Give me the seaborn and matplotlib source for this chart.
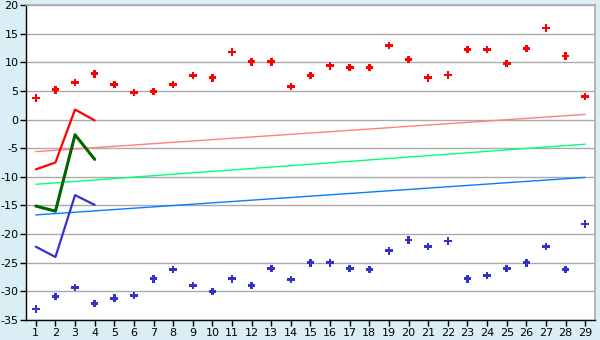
import matplotlib
matplotlib.use("Agg")
import matplotlib.pyplot as plt
import seaborn as sns
import pandas as pd

x_days = list(range(1, 30))
red_points = [3.8, 5.2, 6.5, 8.0, 6.1, 4.7, 4.9, 6.1, 7.7, 7.3,
              11.8, 10.1, 10.1, 5.8, 7.7, 9.4, 9.1, 9.1, 12.9, 10.5,
              7.3, 7.8, 12.2, 12.2, 9.8, 12.4, 16.0, 11.1, 4.0]
blue_points = [-33.1, -30.9, -29.3, -32.1, -31.2, -30.7, -27.8, -26.2, -29.0, -30.0,
               -27.8, -29.0, -26.0, -27.9, -25.0, -25.0, -26.0, -26.2, -22.9, -21.0,
               -22.2, -21.2, -27.8, -27.2, -26.0, -25.0, -22.2, -26.2, -18.2]

x_short = [1, 2, 3, 4]
red_line = [-8.7, -7.5, 1.75, -0.15]
green_line = [-15.1, -16.0, -2.65, -6.95]
blue_line = [-22.2, -24.0, -13.2, -14.9]

x_trend = [1, 29]
red_trend = [-5.6, 0.9]
green_trend = [-11.3, -4.3]
blue_trend = [-16.65, -10.1]

y_ticks = [20, 15, 10, 5, 0, -5, -10, -15, -20, -25, -30, -35]

sns.set_style("white")
plt.rcParams['font.family'] = ['DejaVu Sans']
plt.rcParams['axes.unicode_minus'] = False

bg = "#D9EEF5"
fig = plt.figure(figsize=(6, 3.4), dpi=100, facecolor=bg)
ax = fig.add_axes([26/600, 20/340, (595-26)/600, (320-5)/340])
ax.set_facecolor("white")

for yt in y_ticks:
    ax.axhline(yt, color="#AAAAAA", lw=1.0, zorder=0)

# trend lines
sns.lineplot(x=x_trend, y=red_trend, color="#FF8080", lw=1.0, ax=ax, zorder=2)
sns.lineplot(x=x_trend, y=green_trend, color="#00FF80", lw=1.0, ax=ax, zorder=2)
sns.lineplot(x=x_trend, y=blue_trend, color="#0080FF", lw=1.0, ax=ax, zorder=2)

# short lines
sns.lineplot(x=x_short, y=red_line, color="#FF0000", lw=1.6, ax=ax, zorder=3)
sns.lineplot(x=x_short, y=green_line, color="#006400", lw=2.2, ax=ax, zorder=3)
sns.lineplot(x=x_short, y=blue_line, color="#3333CC", lw=1.6, ax=ax, zorder=3)

# points
sns.scatterplot(x=x_days, y=red_points, color="#FF0000", marker="P", s=30,
                edgecolor="none", linewidth=0, ax=ax, zorder=4)
sns.scatterplot(x=x_days, y=blue_points, color="#3333CC", marker="P", s=30,
                edgecolor="none", linewidth=0, ax=ax, zorder=4)

ax.set_xlim(0.5, 29.5)
ax.set_ylim(-35, 20)
ax.set_xticks(x_days)
ax.set_xticklabels([str(d) for d in x_days])
ax.set_yticks(y_ticks)
ax.set_yticklabels([str(t) for t in y_ticks])
ax.tick_params(axis="both", direction="out", length=4, width=1, color="black",
               labelsize=8, pad=1.5, labelcolor="black")
ax.tick_params(axis="x", bottom=True)
ax.tick_params(axis="y", left=True)

for side in ["top", "right"]:
    ax.spines[side].set_color("#AAAAAA")
    ax.spines[side].set_linewidth(1.2)
for side in ["left", "bottom"]:
    ax.spines[side].set_color("black")
    ax.spines[side].set_linewidth(1)

ax.set_xlabel("")
ax.set_ylabel("")
fig.savefig("out.png", dpi=100, facecolor=bg)
